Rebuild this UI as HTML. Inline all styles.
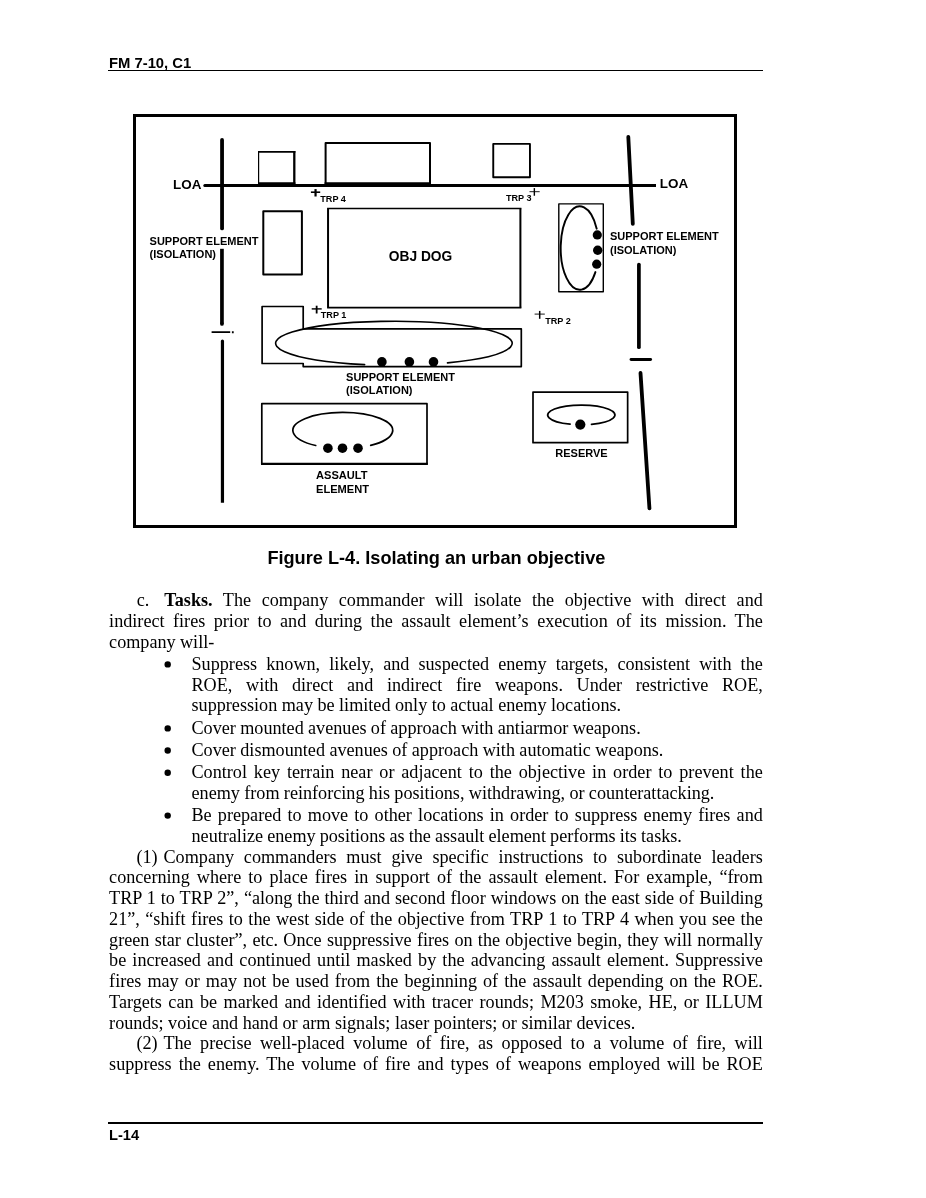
<!DOCTYPE html>
<html><head><meta charset="utf-8"><title>FM 7-10, C1 - L-14</title>
<style>
html,body{margin:0;padding:0;background:#fff;}
body{width:926px;height:1198px;position:relative;overflow:hidden;}
.t{position:absolute;white-space:pre;font-family:"Liberation Serif",serif;line-height:20px;height:20px;color:#000;}
.s{position:absolute;white-space:pre;font-family:"Liberation Sans",sans-serif;font-weight:bold;line-height:20px;height:20px;color:#000;}
.rule{position:absolute;background:#000;}
svg{position:absolute;left:0;top:0;}
#page{position:absolute;left:0;top:0;width:926px;height:1198px;will-change:transform;background:#fff;}
</style></head><body><div id="page">

<div class="s" style="left:109.00px;top:52.77px;font-size:14.8px;">FM 7-10, C1</div>
<div class="rule" style="left:108px;top:70px;width:655.2px;height:1.1px"></div>
<div class="rule" style="left:108px;top:1122px;width:655.2px;height:2px"></div>
<div class="s" style="left:109.00px;top:1124.81px;font-size:14.7px;">L-14</div>
<div class="s" style="left:267.40px;top:547.51px;font-size:18.16px;">Figure L-4. Isolating an urban objective</div>
<div class="t" style="left:136.70px;top:590.27px;font-size:18.16px;">c.</div>
<div class="t" style="left:164.30px;top:590.27px;font-size:18.16px;word-spacing:6.047px;"><b>Tasks.</b> The company commander will isolate the objective with direct and</div>
<div class="t" style="left:109.10px;top:610.97px;font-size:18.16px;word-spacing:3.920px;">indirect fires prior to and during the assault element’s execution of its mission. The</div>
<div class="t" style="left:109.10px;top:631.67px;font-size:18.16px;word-spacing:-0.191px;">company will-</div>
<div class="t" style="left:191.50px;top:653.87px;font-size:18.16px;word-spacing:4.591px;">Suppress known, likely, and suspected enemy targets, consistent with the</div>
<div class="t" style="left:191.50px;top:674.67px;font-size:18.16px;word-spacing:9.137px;">ROE, with direct and indirect fire weapons. Under restrictive ROE,</div>
<div class="t" style="left:191.50px;top:695.37px;font-size:18.16px;word-spacing:-0.066px;">suppression may be limited only to actual enemy locations.</div>
<div class="t" style="left:191.50px;top:717.87px;font-size:18.16px;word-spacing:-0.221px;">Cover mounted avenues of approach with antiarmor weapons.</div>
<div class="t" style="left:191.50px;top:739.97px;font-size:18.16px;word-spacing:-0.150px;">Cover dismounted avenues of approach with automatic weapons.</div>
<div class="t" style="left:191.50px;top:762.27px;font-size:18.16px;word-spacing:2.334px;">Control key terrain near or adjacent to the objective in order to prevent the</div>
<div class="t" style="left:191.50px;top:782.97px;font-size:18.16px;word-spacing:-0.213px;">enemy from reinforcing his positions, withdrawing, or counterattacking.</div>
<div class="t" style="left:191.50px;top:805.07px;font-size:18.16px;word-spacing:1.632px;">Be prepared to move to other locations in order to suppress enemy fires and</div>
<div class="t" style="left:191.50px;top:825.87px;font-size:18.16px;word-spacing:-0.416px;">neutralize enemy positions as the assault element performs its tasks.</div>
<div class="t" style="left:136.50px;top:846.67px;font-size:18.16px;">(1)</div>
<div class="t" style="left:163.50px;top:846.67px;font-size:18.16px;word-spacing:5.202px;">Company commanders must give specific instructions to subordinate leaders</div>
<div class="t" style="left:109.10px;top:867.37px;font-size:18.16px;word-spacing:2.543px;">concerning where to place fires in support of the assault element. For example, “from</div>
<div class="t" style="left:109.10px;top:888.17px;font-size:18.16px;word-spacing:0.463px;">TRP 1 to TRP 2”, “along the third and second floor windows on the east side of Building</div>
<div class="t" style="left:109.10px;top:908.97px;font-size:18.16px;word-spacing:0.912px;">21”, “shift fires to the west side of the objective from TRP 1 to TRP 4 when you see the</div>
<div class="t" style="left:109.10px;top:929.67px;font-size:18.16px;word-spacing:0.720px;">green star cluster”, etc. Once suppressive fires on the objective begin, they will normally</div>
<div class="t" style="left:109.10px;top:950.47px;font-size:18.16px;word-spacing:1.582px;">be increased and continued until masked by the advancing assault element. Suppressive</div>
<div class="t" style="left:109.10px;top:971.17px;font-size:18.16px;word-spacing:1.495px;">fires may or may not be used from the beginning of the assault depending on the ROE.</div>
<div class="t" style="left:109.10px;top:991.97px;font-size:18.16px;word-spacing:1.888px;">Targets can be marked and identified with tracer rounds; M203 smoke, HE, or ILLUM</div>
<div class="t" style="left:109.10px;top:1012.67px;font-size:18.16px;word-spacing:-0.010px;">rounds; voice and hand or arm signals; laser pointers; or similar devices.</div>
<div class="t" style="left:136.50px;top:1033.47px;font-size:18.16px;">(2)</div>
<div class="t" style="left:163.40px;top:1033.47px;font-size:18.16px;word-spacing:3.951px;">The precise well-placed volume of fire, as opposed to a volume of fire, will</div>
<div class="t" style="left:109.10px;top:1054.27px;font-size:18.16px;word-spacing:2.465px;">suppress the enemy. The volume of fire and types of weapons employed will be ROE</div>
<svg width="926" height="1198" viewBox="0 0 926 1198" fill="none" stroke="#000">
<!-- outer frame -->
<rect x="134.5" y="115.5" width="601" height="411" stroke-width="3"/>
<!-- LOA horizontal line -->
<path d="M204.8 185.5 H656" stroke-width="3"/>
<circle cx="204.8" cy="185.5" r="1.5" fill="#000" stroke="none"/>
<!-- left vertical boundary -->
<line x1="222.05" y1="140" x2="222.05" y2="228.4" stroke-width="3.8" stroke-linecap="round"/>
<path d="M221.95 248.8 V323.9" stroke-width="3.7"/>
<circle cx="221.95" cy="323.9" r="1.85" fill="#000" stroke="none"/>
<path d="M211.6 332.15 H230.2 M231.9 332.2 H233.7" stroke-width="1.9"/>
<path d="M222.45 341.1 V502.8" stroke-width="3.2"/>
<circle cx="222.45" cy="341.1" r="1.6" fill="#000" stroke="none"/>
<!-- right boundary -->
<g stroke-width="3.8" stroke-linecap="round">
<line x1="628.3" y1="136.8" x2="632.8" y2="223.9"/>
<line x1="638.9" y1="264.6" x2="638.9" y2="347.2" stroke-width="3.7"/>
<line x1="640.5" y1="373" x2="649.45" y2="508.4" stroke-width="3.8"/>
</g>
<line x1="631.05" y1="359.5" x2="650.6" y2="359.5" stroke-width="2.9" stroke-linecap="round"/>
<!-- buildings -->
<g stroke-width="1.9" stroke-linejoin="round">
<path d="M258.6 184 V151.8" stroke-width="1.2"/><path d="M258 151.8 H295.4" stroke-width="1.7"/><path d="M294.3 151 V184" stroke-width="2.3"/>
<path d="M325.6 184 V143.05 H430 V184" stroke-width="2"/>
<path d="M324.6 183.2 H431 M258 183.2 H295.4" stroke-width="1.8"/>
<rect x="493.25" y="143.9" width="36.7" height="33.3"/>
<rect x="263.3" y="211.3" width="38.6" height="63.2" stroke-width="2"/>
<path d="M328.05 208.4 V307.6 M520.4 208.4 V307.6" stroke-width="2"/><path d="M327.1 208.4 H521.4 M327.1 307.6 H521.4" stroke-width="1.55"/>
<rect x="558.8" y="203.9" width="44.5" height="87.8" stroke-width="1.4"/>
<path d="M262.1 306.5 H303.2 V328.8 H521.3 V366.6 H303.2 V363.5 H262.1 Z" stroke-width="1.7"/>
<path d="M261.8 403.7 H427 V463.9 H261.8 Z" stroke-width="1.7"/><path d="M261 463.9 H427.8" stroke-width="2.2"/>
<rect x="533" y="392.1" width="94.65" height="50.6" stroke-width="1.7"/>
</g>
<!-- open ellipses -->
<g stroke-width="1.7" stroke-linecap="round">
<path d="M595.4 272.1 A19.1 41.65 0 1 1 596.7 228.7" stroke-width="1.9"/>
<path d="M364.6 364.6 A118.3 22 0 1 1 447.5 362.9" stroke-width="1.6"/>
<path d="M315.7 445.5 A49.9 18.0 0 1 1 370.7 445.3"/>
<path d="M570.1 424.2 A33.65 9.8 0 1 1 591.5 424.3"/>
</g>
<!-- dots -->
<g fill="#000" stroke="none">
<circle cx="597.3" cy="234.9" r="4.6"/><circle cx="597.7" cy="250.2" r="4.7"/><circle cx="596.7" cy="264.2" r="4.6"/>
<circle cx="381.9" cy="361.9" r="4.8"/><circle cx="409.4" cy="361.9" r="4.8"/><circle cx="433.5" cy="361.9" r="4.8"/>
<circle cx="327.9" cy="448.2" r="4.8"/><circle cx="342.5" cy="448.2" r="4.8"/><circle cx="358" cy="448.2" r="4.8"/>
<circle cx="580.3" cy="424.6" r="5.1"/>
</g>
<!-- TRP plus marks -->
<path d="M310.9 192.2 H320.2" stroke-width="1.6"/><path d="M315.55 189.1 V196.5" stroke-width="2.2"/>
<path d="M529.5 191.7 H539.7" stroke-width="0.9"/><path d="M534.35 188.1 V195.75" stroke-width="1.4"/>
<path d="M311.7 308.9 H321.7" stroke-width="1.4"/><path d="M316.65 305.7 V313.5" stroke-width="1.8"/>
<path d="M534.6 314.1 H544.8" stroke-width="0.9"/><path d="M539.7 310.9 V318.8" stroke-width="1.5"/>
<!-- bullets -->
<g fill="#000" stroke="none"><circle cx="167.7" cy="664.4" r="3.2"/><circle cx="167.7" cy="728.4" r="3.2"/><circle cx="167.7" cy="750.5" r="3.2"/><circle cx="167.7" cy="772.8" r="3.2"/><circle cx="167.7" cy="815.6" r="3.2"/></g>
</svg>

<div class="s" style="left:173.00px;top:174.64px;font-size:13.45px;">LOA</div>
<div class="s" style="left:659.80px;top:173.84px;font-size:13.45px;">LOA</div>
<div class="s" style="left:149.60px;top:230.79px;font-size:11px;">SUPPORT ELEMENT</div>
<div class="s" style="left:149.60px;top:243.89px;font-size:11px;">(ISOLATION)</div>
<div class="s" style="left:610.00px;top:226.09px;font-size:11px;">SUPPORT ELEMENT</div>
<div class="s" style="left:610.00px;top:239.79px;font-size:11px;">(ISOLATION)</div>
<div class="s" style="left:346.10px;top:367.29px;font-size:11px;">SUPPORT ELEMENT</div>
<div class="s" style="left:346.10px;top:380.19px;font-size:11px;">(ISOLATION)</div>
<div class="s" style="left:388.80px;top:247.23px;font-size:13.77px;">OBJ DOG</div>
<div class="s" style="left:320.30px;top:188.55px;font-size:9.1px;">TRP 4</div>
<div class="s" style="left:506.00px;top:187.55px;font-size:9.1px;">TRP 3</div>
<div class="s" style="left:320.80px;top:305.35px;font-size:9.1px;">TRP 1</div>
<div class="s" style="left:545.20px;top:311.15px;font-size:9.1px;">TRP 2</div>
<div class="s" style="left:316.00px;top:465.35px;font-size:11.1px;">ASSAULT</div>
<div class="s" style="left:316.00px;top:478.85px;font-size:11.1px;">ELEMENT</div>
<div class="s" style="left:555.30px;top:442.69px;font-size:11px;">RESERVE</div>
</div></body></html>
